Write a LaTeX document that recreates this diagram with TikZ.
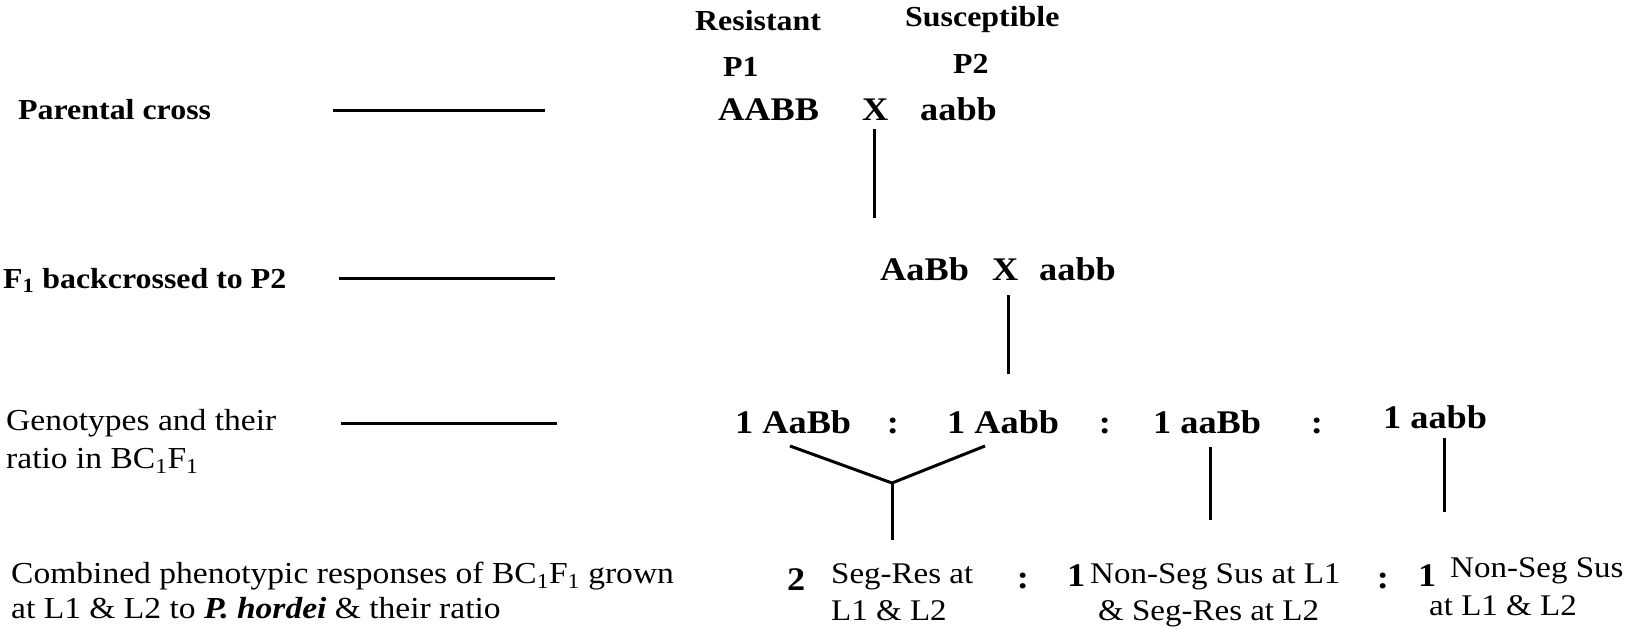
\documentclass[tikz,border=0pt]{standalone}
\usepackage{fontspec}
\setmainfont{Liberation Serif}[FakeStretch=1.1]
\tikzset{
  lbl/.style={font=\fontsize{29}{36}\selectfont\bfseries, inner sep=0pt, anchor=base west},
  note/.style={font=\fontsize{30.5}{36}\selectfont, inner sep=0pt, anchor=base west},
  geno/.style={font=\fontsize{33}{40}\selectfont\bfseries, inner sep=0pt, anchor=base west},
  resp/.style={font=\fontsize{30}{36}\selectfont, inner sep=0pt, anchor=base west},
  sep/.style={geno, anchor=base},
  link/.style={line width=3pt},
}
\begin{document}
\begin{tikzpicture}[x=1pt,y=-1pt]
  \useasboundingbox (0,0) rectangle (1625,629);

  % generation labels on the left
  \node[lbl] (lpar) at (18,119) {Parental cross};
  \node[lbl] (lbc) at (3,288) {F\textsubscript{1} backcrossed to P2};
  \node[note] (lgen1) at (6,430) {Genotypes and their};
  \node[note] (lgen2) at (6,468) {ratio in BC\textsubscript{1}F\textsubscript{1}};
  \node[note] (lphen1) at (11,583) {Combined phenotypic responses of BC\textsubscript{1}F\textsubscript{1} grown};
  \node[note] (lphen2) at (11,618) {at L1 \& L2 to \textbf{\textit{P. hordei}} \& their ratio};

  \coordinate (h1a) at (333,110); \coordinate (h1b) at (545,110);
  \coordinate (h2a) at (339,278); \coordinate (h2b) at (555,278);
  \coordinate (h3a) at (341,423); \coordinate (h3b) at (557,423);
  \draw[link] (h1a) -- (h1b);
  \draw[link] (h2a) -- (h2b);
  \draw[link] (h3a) -- (h3b);

  % parents
  \node[lbl] (res) at (695,30) {Resistant};
  \node[lbl] (sus) at (905,27) {Susceptible};
  \node[lbl] (p1) at (723,76) {P1};
  \node[lbl] (p2) at (953,73) {P2};
  \node[geno] (g11) at (718,120) {AABB};
  \node[geno] (x1) at (862,120) {X};
  \node[geno] (g12) at (920,120) {aabb};

  % backcross
  \node[geno] (g21) at (880,280) {AaBb};
  \node[geno] (x2) at (992,280) {X};
  \node[geno] (g22) at (1039,280) {aabb};

  \coordinate (v1a) at (874,129); \coordinate (v1b) at (874,218);
  \coordinate (v2a) at (1008,295); \coordinate (v2b) at (1008,374);
  \draw[link] (v1a) -- (v1b);
  \draw[link] (v2a) -- (v2b);

  % BC1F1 genotypes
  \node[geno] (b1) at (735,433) {1 AaBb};
  \node[sep] (c1) at (893,433) {:};
  \node[geno] (b2) at (947,433) {1 Aabb};
  \node[sep] (c2) at (1105,433) {:};
  \node[geno] (b3) at (1153,433) {1 aaBb};
  \node[sep] (c3) at (1317,433) {:};
  \node[geno] (b4) at (1383,428) {1 aabb};

  \coordinate (ya) at (790,446); \coordinate (yb) at (985,446);
  \coordinate (yj) at (892,483); \coordinate (yc) at (892,540);
  \draw[link, line join=miter] (ya) -- (yj) -- (yb);
  \draw[link] (yj) -- (yc);
  \coordinate (v3a) at (1210,447); \coordinate (v3b) at (1210,520);
  \coordinate (v4a) at (1444,438); \coordinate (v4b) at (1444,512);
  \draw[link] (v3a) -- (v3b);
  \draw[link] (v4a) -- (v4b);

  % phenotypic classes
  \node[geno] (n1) at (787,590) {2};
  \node[resp] (r1a) at (831,583) {Seg-Res at};
  \node[resp] (r1b) at (831,620) {L1 \& L2};
  \node[sep] (c4) at (1023,588) {:};
  \node[geno] (n2) at (1067,586) {1};
  \node[resp] (r2a) at (1090,583) {Non-Seg Sus at L1};
  \node[resp] (r2b) at (1098,620) {\& Seg-Res at L2};
  \node[sep] (c5) at (1383,588) {:};
  \node[geno] (n3) at (1418,586) {1};
  \node[resp] (r3a) at (1450,577) {Non-Seg Sus};
  \node[resp] (r3b) at (1429,615) {at L1 \& L2};
\end{tikzpicture}
\end{document}
